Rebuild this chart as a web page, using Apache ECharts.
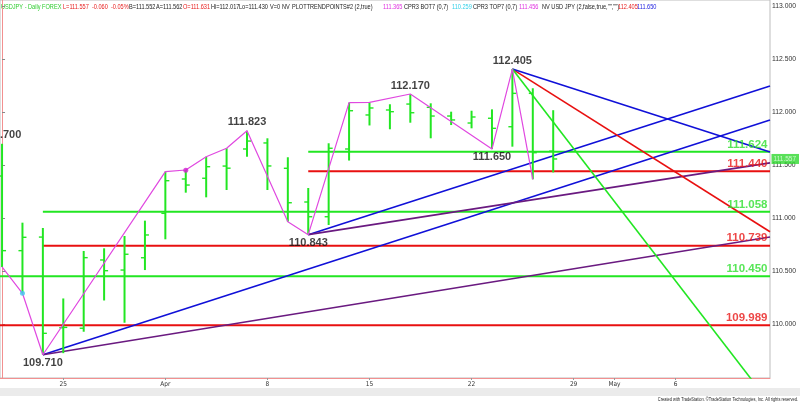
<!DOCTYPE html>
<html><head><meta charset="utf-8">
<script src="https://cdn.jsdelivr.net/npm/echarts@6/dist/echarts.min.js"></script>
<style>html,body{margin:0;padding:0;background:#fff}#c{width:800px;height:402px}</style>
</head><body><div id="c"></div>
<script>
// ---------------- DATA ----------------
const barDates = ['2019-03-20','2019-03-21','2019-03-22','2019-03-25','2019-03-26','2019-03-27','2019-03-28','2019-03-29',
  '2019-04-01','2019-04-02','2019-04-03','2019-04-04','2019-04-05','2019-04-08','2019-04-09','2019-04-10','2019-04-11','2019-04-12',
  '2019-04-15','2019-04-16','2019-04-17','2019-04-18','2019-04-19','2019-04-22','2019-04-23','2019-04-24','2019-04-25','2019-04-26'];
const opens  = [111.396,110.692,110.820,109.965,109.960,110.604,110.509,110.625,111.044,111.368,111.375,111.490,111.651,111.708,111.469,111.151,111.012,111.651,111.972,112.019,112.075,112.044,111.962,111.896,111.941,111.861,112.176,111.631];
const highs  = [111.700,110.956,110.906,110.241,110.689,110.714,110.830,110.975,111.437,111.453,111.578,111.658,111.823,111.752,111.573,111.283,111.705,112.088,112.090,112.073,112.170,112.082,112.003,112.012,112.025,112.405,112.224,112.017];
const lows   = [110.538,110.290,109.710,109.725,109.927,110.222,110.012,110.509,110.799,111.239,111.195,111.264,111.578,111.264,110.965,110.843,110.934,111.542,111.873,111.837,111.899,111.752,111.877,111.846,111.650,111.673,111.365,111.430];
const closes = [110.692,110.818,109.912,109.968,110.626,110.503,110.658,110.840,111.352,111.311,111.484,111.470,111.726,111.491,111.144,111.012,111.658,112.012,112.038,112.003,111.993,111.962,111.925,111.953,111.846,112.176,111.616,111.557];

const tickDates  = ['2019-03-25','2019-04-01','2019-04-08','2019-04-15','2019-04-22','2019-04-29','2019-05-01','2019-05-06'];
const tickLabels = ['25','Apr','8','15','22','29','May','6'];
const priceTicks = [110.0,110.5,111.0,111.5,112.0,112.5,113.0];

const zigzagDates  = ['2019-03-20','2019-03-21','2019-03-22','2019-04-01','2019-04-02','2019-04-03','2019-04-04','2019-04-05','2019-04-09','2019-04-10','2019-04-12','2019-04-15','2019-04-17','2019-04-23','2019-04-24','2019-04-25'];
const zigzagValues = [110.538,110.290,109.710,111.437,111.453,111.578,111.658,111.823,110.965,110.843,112.088,112.090,112.170,111.650,112.405,111.365];

const swingHighDates  = ['2019-03-20','2019-04-05','2019-04-17','2019-04-24'];
const swingHighValues = [111.700,111.823,112.170,112.405];
const swingLowDates   = ['2019-03-22','2019-04-10','2019-04-23'];
const swingLowValues  = [109.710,110.843,111.650];

const levelValues = [111.624,111.440,111.058,110.739,110.450,109.989];
const levelKinds  = ['half','fib','half','fib','half','fib'];
const levelFrom   = ['2019-04-10','2019-04-10','2019-03-22','2019-03-22','2019-03-18','2019-03-18'];

// trend lines: anchor (date, price) -> price at right edge of chart
const trendKinds      = ['upBlue','upBlue','upPurple','upPurple','downRed','downBlue','downGreen'];
const trendFromDates  = ['2019-03-22','2019-04-10','2019-03-22','2019-04-10','2019-04-24','2019-04-24','2019-04-24'];
const trendFromValues = [109.710,110.843,109.710,110.843,112.405,112.405,112.405];
const trendEndValues  = [111.925,112.245,110.820,111.520,110.870,111.623,109.250];

const cyanDotDates = ['2019-03-21'], cyanDotValues = [110.290];
const magDotDates  = ['2019-04-02'], magDotValues  = [111.450];
const lastPrice = 111.557;

const headerTexts = ['USDJPY - Daily FOREX','L=111.557  -0.060  -0.05%','B=111.552','A=111.562','O=111.631','Hi=112.017','Lo=111.430','V=0','NV',
  'PLOTTRENDPOINTS#2 (2,true)','111.365','CPR3 BOT7 (0,7)','110.259','CPR3 TOP7 (0,7)','111.456','NV USD JPY (2,false,true,"","")','112.405','111.650'];
const headerKinds = ['sym','neg','txt','txt','neg','txt','txt','txt','txt','txt','mag','txt','cyan','txt','mag','txt','neg','blue'];

// ---------------- CALENDAR / LAYOUT ----------------
const pad = n => (n<10?'0':'')+n;
const days = [];
(function(){ const d = new Date(2019,2,18); while(days.length<45){ const w=d.getDay(); if(w!==0&&w!==6) days.push(d.getFullYear()+'-'+pad(d.getMonth()+1)+'-'+pad(d.getDate())); d.setDate(d.getDate()+1);} })();
const base = days.indexOf('2019-03-20');
const idx = s => days.indexOf(s) - base;

const X_MIN = -0.1, X_MAX = 37.62;
const Y_MIN = 109.4906, Y_MAX = 113.0566;
const GREEN = '#22e622', RED = '#e81010', BLUE = '#1010d8', PURPLE = '#6a1a80', MAG = '#e048e0', CYAN = '#40c8f0';
const FONT = "'Liberation Sans', Arial, sans-serif";
const colorOf = {sym:'#2ecc2e', neg:'#e82020', txt:'#222', mag:'#e030e0', cyan:'#30d0e8', blue:'#2020e0'};
const trendColor = {upBlue:BLUE, upPurple:PURPLE, downRed:RED, downBlue:BLUE, downGreen:GREEN};

const ohlc = barDates.map((d,i)=>[idx(d), opens[i], highs[i], lows[i], closes[i]]);
const tickIdx = tickDates.map(idx);

const series = [];
// horizontal levels
levelValues.forEach((v,i)=>{
  series.push({type:'line', silent:true, symbol:'none', z:1, animation:false,
    lineStyle:{color: levelKinds[i]==='half'?GREEN:RED, width:2},
    data:[[idx(levelFrom[i]), v],[X_MAX, v]]});
});
// trend lines
trendKinds.forEach((k,i)=>{
  series.push({type:'line', silent:true, symbol:'none', z:2, animation:false,
    lineStyle:{color: trendColor[k], width:1.6},
    data:[[idx(trendFromDates[i]), trendFromValues[i]],[X_MAX, trendEndValues[i]]]});
});
// OHLC bars
series.push({type:'custom', z:3, animation:false, silent:true,
  encode:{x:0, y:[1,2,3,4]},
  data: ohlc,
  renderItem: function(params, api){
    const i = api.value(0);
    const o = api.coord([i, api.value(1)]), h = api.coord([i, api.value(2)]);
    const l = api.coord([i, api.value(3)]), c = api.coord([i, api.value(4)]);
    const x = h[0];
    return {type:'group', children:[
      {type:'line', shape:{x1:x,y1:h[1],x2:x,y2:l[1]}, style:{stroke:GREEN, lineWidth:2}},
      {type:'line', shape:{x1:x-4,y1:o[1],x2:x,y2:o[1]}, style:{stroke:GREEN, lineWidth:1.4}},
      {type:'line', shape:{x1:x,y1:c[1],x2:x+4,y2:c[1]}, style:{stroke:GREEN, lineWidth:1.4}}
    ]};
  }});
// zigzag
series.push({type:'line', silent:true, symbol:'none', z:4, animation:false,
  lineStyle:{color:MAG, width:1.2},
  data: zigzagDates.map((d,i)=>[idx(d), zigzagValues[i]])});
// dots
series.push({type:'scatter', z:5, silent:true, animation:false, symbolSize:5, itemStyle:{color:CYAN},
  data: cyanDotDates.map((d,i)=>[idx(d), cyanDotValues[i]])});
series.push({type:'scatter', z:5, silent:true, animation:false, symbolSize:5, itemStyle:{color:'#d020d0'},
  data: magDotDates.map((d,i)=>[idx(d), magDotValues[i]])});
// swing labels
const swingLabel = {show:true, fontFamily:FONT, fontWeight:'bold', fontSize:11, color:'#111', formatter: p=>p.value[1].toFixed(3)};
series.push({type:'scatter', z:6, silent:true, animation:false, symbolSize:1, itemStyle:{color:'rgba(0,0,0,0)'}, clip:false,
  label:Object.assign({position:'top', distance:2.5}, swingLabel),
  data: swingHighDates.map((d,i)=>[idx(d), swingHighValues[i]])});
series.push({type:'scatter', z:6, silent:true, animation:false, symbolSize:1, itemStyle:{color:'rgba(0,0,0,0)'}, clip:false,
  label:Object.assign({position:'bottom', distance:2}, swingLabel),
  data: swingLowDates.map((d,i)=>[idx(d), swingLowValues[i]])});
// level labels
series.push({type:'scatter', z:6, silent:true, animation:false, symbolSize:1, itemStyle:{color:'rgba(0,0,0,0)'},
  label:{show:true, position:'left', distance:2, offset:[0,-7.5], fontFamily:FONT, fontWeight:'bold', fontSize:11.5,
    formatter:p=>p.value[1].toFixed(3)},
  data: levelValues.map((v,i)=>({value:[X_MAX, v], label:{color: levelKinds[i]==='half'?'#2ee02e':'#e81818'}}))});
// last price tag
series.push({type:'scatter', z:7, silent:true, animation:false, symbolSize:1, itemStyle:{color:'rgba(0,0,0,0)'},
  label:{show:true, position:'right', distance:1, fontFamily:FONT, fontSize:6.5, color:'#eaffea', backgroundColor:'#2fd82f',
    padding:[1.5,3,1.5,2], formatter:p=>p.value[1].toFixed(3)},
  data:[[X_MAX, lastPrice]]});

// header positions (layout)
const headerX = [1,63,129,156,183,211,239,270,282,292,383,404,452,473,519,542,618,637];
const graphics = headerTexts.map((t,i)=>({type:'text', x:headerX[i], y:6.3, scaleX:0.7, silent:true,
  style:{text:t, fill:colorOf[headerKinds[i]], font:'8px '+FONT, textVerticalAlign:'middle', verticalAlign:'middle'}}));
graphics.push({type:'rect', shape:{x:0,y:388,width:800,height:8}, style:{fill:'#ebebeb'}, silent:true, z:-1});
graphics.push({type:'text', x:798, y:399, scaleX:0.66, silent:true,
  style:{text:'Created with TradeStation. ©TradeStation Technologies, Inc. All rights reserved.', fill:'#222', font:'6px '+FONT, align:'right', textAlign:'right', verticalAlign:'middle', textVerticalAlign:'middle'}});

const chart = echarts.init(document.getElementById('c'), null, {renderer:'canvas'});
chart.setOption({
  animation:false,
  backgroundColor:'#fff',
  grid:{left:0, right:30, top:0, bottom:24, show:true, borderColor:'#bdbdbd', borderWidth:1},
  xAxis:{type:'value', min:X_MIN, max:X_MAX, splitLine:{show:false},
    axisLine:{show:true, onZero:false, lineStyle:{color:'#f29090', width:1}},
    axisTick:{show:true, length:2, customValues: tickIdx, lineStyle:{color:'#999'}},
    axisLabel:{customValues: tickIdx, fontSize:6.5, color:'#333', margin:3, fontFamily:"'Liberation Sans Narrow','DejaVu Sans Condensed',Arial,sans-serif",
      formatter: v => { const k = tickIdx.indexOf(Math.round(v)); return k>=0 ? tickLabels[k] : ''; }}},
  yAxis:{type:'value', position:'right', min:Y_MIN, max:Y_MAX, splitLine:{show:false},
    axisLine:{show:true, lineStyle:{color:'#f29090', width:1}},
    axisTick:{show:true, length:3, customValues: priceTicks, lineStyle:{color:'#888'}},
    axisLabel:{customValues: priceTicks, fontSize:6.8, color:'#333', margin:2, fontFamily:FONT, formatter: v=>v.toFixed(3)}},
  graphic: graphics,
  series: series
});
</script></body></html>
